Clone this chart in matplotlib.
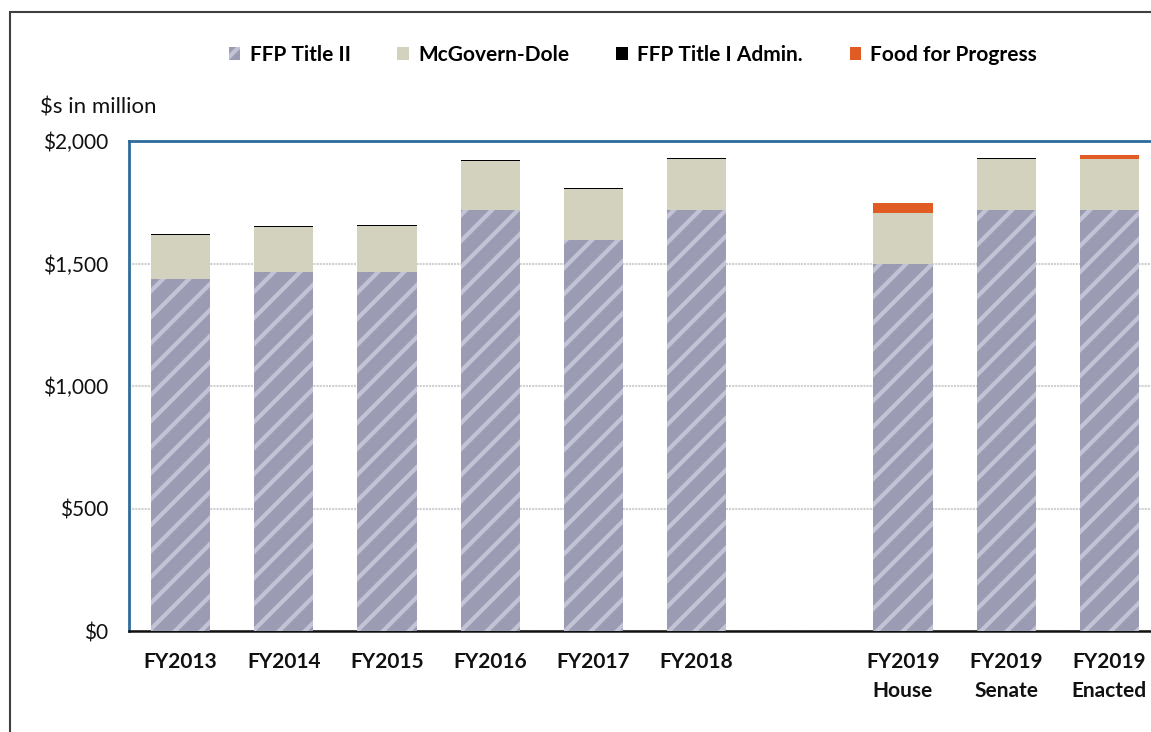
import numpy as np
import matplotlib
matplotlib.use("Agg")
import matplotlib.pyplot as plt
from matplotlib.patches import Patch, Rectangle

# low dpi so the hatch stripes come out as dense as in the original;
# S converts the sizes I tuned at 100 dpi
DPI = 78
S = 100 / DPI

plt.rcParams["font.family"] = ["Lato", "DejaVu Sans"]
plt.rcParams["hatch.linewidth"] = 3.0 * S
plt.rcParams["hatch.color"] = "#c2c4d5"

# data ($ millions)
categories = ["FY2013", "FY2014", "FY2015", "FY2016", "FY2017", "FY2018",
              "FY2019\nHouse", "FY2019\nSenate", "FY2019\nEnacted"]
title_ii = [1435, 1467, 1467, 1718, 1596, 1718, 1498, 1718, 1718]
mcgovern_dole = [182, 183, 185, 200, 208, 210, 210, 207, 207]
title_i_admin = [5, 5, 5, 4, 4, 4, 0, 5, 0]
food_for_progress = [0, 0, 0, 0, 0, 0, 37, 0, 17]
y_ticks = [0, 500, 1000, 1500, 2000]

# gap between FY2018 and the FY2019 bars
positions = np.array([0, 1, 2, 3, 4, 5, 7, 8, 9])

W, H = 1151, 732
fig = plt.figure(figsize=(W / DPI, H / DPI), dpi=DPI)
ax = fig.add_axes([129 / W, (H - 631) / H, 1032 / W, 490 / H])

width = 0.575
c_ii = "#9b9cb4"
c_mcg = "#d2d2bf"
c_adm = "#000000"
c_ffp = "#e05c24"

bottom = np.zeros(len(categories))
ax.bar(positions, title_ii, width, bottom=bottom, color=c_ii, hatch="/",
       edgecolor="#c2c4d5", linewidth=0, zorder=3)
bottom += title_ii
ax.bar(positions, mcgovern_dole, width, bottom=bottom, color=c_mcg,
       linewidth=0, zorder=3)
bottom += mcgovern_dole
ax.bar(positions, title_i_admin, width, bottom=bottom, color=c_adm,
       linewidth=0, zorder=3)
bottom += title_i_admin
ax.bar(positions, food_for_progress, width, bottom=bottom, color=c_ffp,
       linewidth=0, zorder=3)

ax.set_xlim(-0.5, 9.5)
ax.set_ylim(0, 2000)
ax.set_yticks(y_ticks)
ax.set_yticklabels([f"${v:,}" for v in y_ticks])
ax.set_xticks(positions)
ax.set_xticklabels(categories, fontweight="bold", fontsize=15 * S,
                   linespacing=1.6)
ax.tick_params(axis="both", length=0, labelsize=15 * S, colors="#111111")
ax.tick_params(axis="x", pad=15 * S)
ax.tick_params(axis="y", pad=15 * S)

ax.grid(axis="y", color="#d0d0d0", linewidth=1.5 * S,
        linestyle=(0, (1, 0.5)), zorder=0)
for side in ["top", "left"]:
    ax.spines[side].set_color("#2f6b99")
    ax.spines[side].set_linewidth(2 * S)
ax.spines["right"].set_visible(False)
ax.spines["bottom"].set_color("#111111")
ax.spines["bottom"].set_linewidth(1.8 * S)

fig.text(40 / W, 1 - 107 / H, "$s in million", fontsize=16 * S,
         va="center", ha="left", color="#111111")

handles = [
    Patch(facecolor=c_ii, hatch="/", edgecolor="#c2c4d5", linewidth=0),
    Patch(facecolor=c_mcg),
    Patch(facecolor=c_adm),
    Patch(facecolor=c_ffp),
]
labels = ["FFP Title II", "McGovern-Dole", "FFP Title I Admin.",
          "Food for Progress"]
fig.legend(handles, labels, loc="center", ncol=4,
           bbox_to_anchor=(633 / W, 1 - 55 / H), frameon=False,
           prop={"weight": "bold", "size": 15 * S}, handlelength=0.55,
           handleheight=0.55, handletextpad=0.45, columnspacing=2.25)

# outer chart frame
fig.patches.append(Rectangle((10 / W, -0.05), 1.2, 1 - 12 / H + 0.05,
                             transform=fig.transFigure, fill=False,
                             edgecolor="#404040", linewidth=1.5 * S))

fig.savefig("out.png", dpi=DPI)
